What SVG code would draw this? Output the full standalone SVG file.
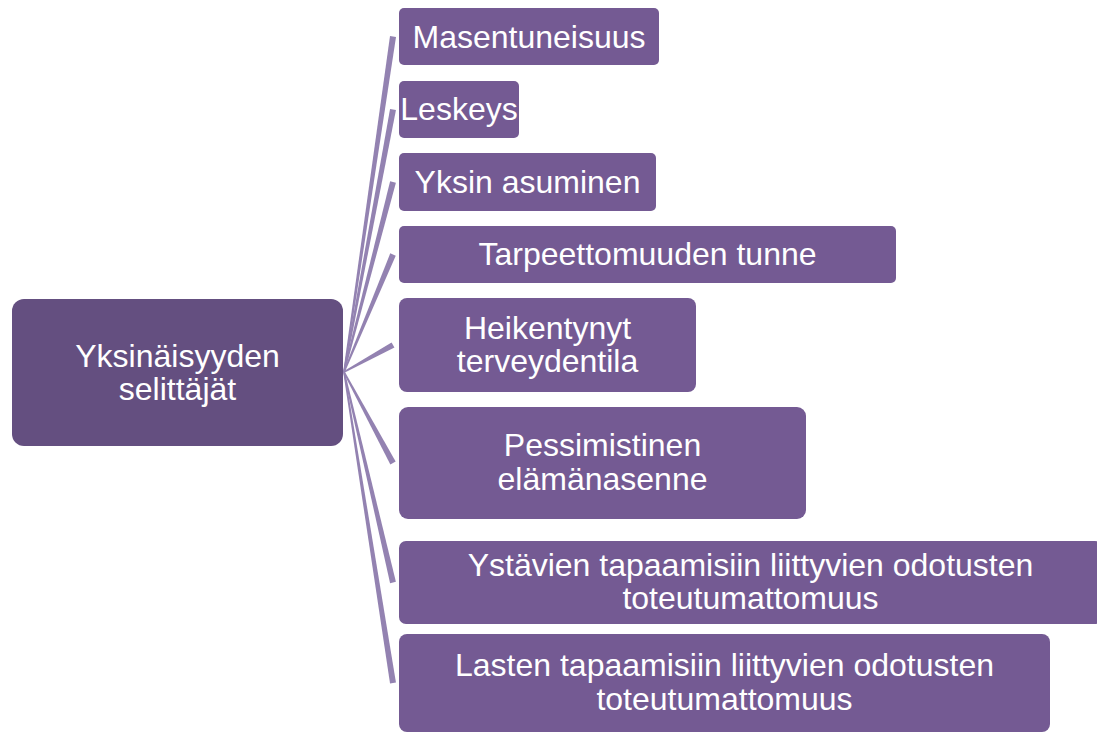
<svg xmlns="http://www.w3.org/2000/svg" width="1097" height="733" viewBox="0 0 1097 733">
<style>
.child{fill:#745a93}
.main{fill:#644f80}
.conn{fill:#9382b1}
text{font-family:"Liberation Sans",Arial,sans-serif;font-size:32px;fill:#ffffff;text-anchor:middle}
</style>
<rect width="1097" height="733" fill="#ffffff"/>
<g id="connectors">
<polygon class="conn" points="343.2,371.9 390.0,36.0 396.0,37.0 344.8,372.1"/>
<polygon class="conn" points="343.2,371.85 390.05,108.95 395.95,110.05 344.8,372.15"/>
<polygon class="conn" points="343.2,371.8 390.1,181.25 395.9,182.75 344.8,372.2"/>
<polygon class="conn" points="343.25,371.7 390.25,253.35 395.75,255.65 344.75,372.3"/>
<polygon class="conn" points="343.6,371.3 391.55,342.4 394.45,347.6 344.4,372.7"/>
<polygon class="conn" points="344.7,371.6 395.65,461.6 390.35,464.4 343.3,372.4"/>
<polygon class="conn" points="344.8,371.8 395.9,581.8 390.1,583.2 343.2,372.2"/>
<polygon class="conn" points="344.8,371.88 395.95,682.55 390.05,683.45 343.2,372.12"/>
</g>
<g id="root">
<rect class="main" x="12" y="299" width="331" height="147" rx="12"/>
<text x="177.5" y="367">Yksinäisyyden</text>
<text x="177.5" y="400">selittäjät</text>
</g>
<g id="n1">
<rect class="child" x="399" y="8" width="260" height="57" rx="5"/>
<text x="529" y="47.5">Masentuneisuus</text>
</g>
<g id="n2">
<rect class="child" x="399" y="81" width="120" height="57" rx="5"/>
<text x="459" y="119.5">Leskeys</text>
</g>
<g id="n3">
<rect class="child" x="399" y="153" width="257" height="58" rx="5"/>
<text x="527.5" y="192.5">Yksin asuminen</text>
</g>
<g id="n4">
<rect class="child" x="399" y="226" width="497" height="57" rx="5"/>
<text x="647.5" y="264.5">Tarpeettomuuden tunne</text>
</g>
<g id="n5">
<rect class="child" x="399" y="298" width="297" height="94" rx="8"/>
<text x="547.5" y="338.5">Heikentynyt</text>
<text x="547.5" y="372">terveydentila</text>
</g>
<g id="n6">
<rect class="child" x="399" y="407" width="407" height="112" rx="9"/>
<text x="602.5" y="456">Pessimistinen</text>
<text x="602.5" y="490">elämänasenne</text>
</g>
<g id="n7">
<rect class="child" x="399" y="541" width="703" height="83" rx="7"/>
<text x="750.5" y="576">Ystävien tapaamisiin liittyvien odotusten</text>
<text x="750.5" y="609">toteutumattomuus</text>
</g>
<g id="n8">
<rect class="child" x="399" y="634" width="651" height="98" rx="8"/>
<text x="724.5" y="676">Lasten tapaamisiin liittyvien odotusten</text>
<text x="724.5" y="710">toteutumattomuus</text>
</g>
</svg>
